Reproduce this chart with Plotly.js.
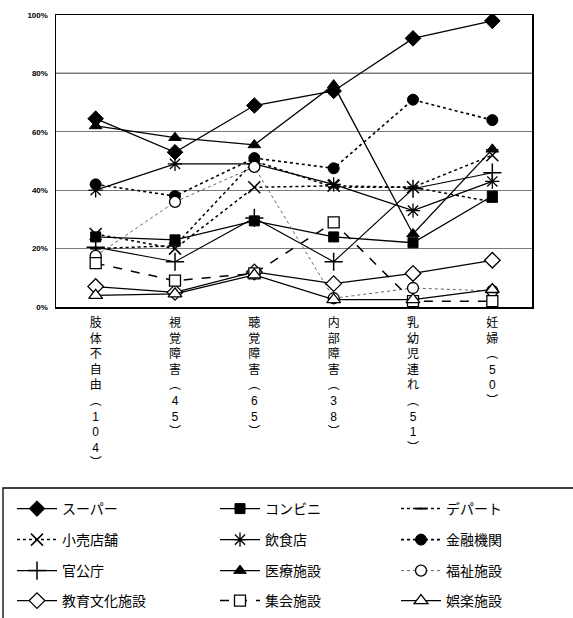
<!DOCTYPE html>
<html>
<head>
<meta charset="utf-8">
<script src="https://cdn.plot.ly/plotly-3.0.1.min.js"></script>
<style>html,body{margin:0;padding:0;background:#fff;}#chart{width:573px;height:618px;}</style>
</head>
<body>
<div id="chart"></div>
<script>
// ---- data ----
const categories = ['肢体不自由', '視覚障害', '聴覚障害', '内部障害', '乳幼児連れ', '妊婦'];
const counts = [104, 45, 65, 38, 51, 50];
const yTickVals = [0, 20, 40, 60, 80, 100];
const yTickText = ['0%', '20%', '40%', '60%', '80%', '100%'];

const seriesNames = ['スーパー', 'コンビニ', 'デパート', '小売店舗', '飲食店', '金融機関',
                     '官公庁', '医療施設', '福祉施設', '教育文化施設', '集会施設', '娯楽施設'];
const superMarket = [64.5, 53, 69, 74, 92, 98];
const convenience = [24, 23, 29.5, 24, 22, 38];
const depart = [20, 21, 50, 41, 41, 36];
const retail = [25, 20, 41, 41.5, 41, 52];
const restaurant = [40, 49, 49, 42, 33, 43];
const finance = [42, 38, 51, 47.5, 71, 64];
const government = [20.5, 15.5, 30.5, 15.5, 40.5, 46];
const medical = [62, 58, 55.5, 76, 25, 54];
const welfare = [17.5, 36, 48, 3, 6.5, 5.5];
const education = [7, 5, 12, 8, 11.5, 16];
const assembly = [15, 9, 11.5, 29, 2, 2];
const entertainment = [4, 4.5, 11, 2.5, 2.5, 6];
const seriesValues = [superMarket, convenience, depart, retail, restaurant, finance,
                      government, medical, welfare, education, assembly, entertainment];

// ---- styles ----
const styles = [
  {dash: 'solid', lc: '#000', lw: 1.3, sym: 'diamond', size: 12, fill: '#000', ol: '#000', olw: 1},
  {dash: 'solid', lc: '#000', lw: 1.3, sym: 'square', size: 10, fill: '#000', ol: '#000', olw: 1},
  {dash: 'dot', lc: '#000', lw: 1.5, sym: 'line-ew-open', size: 8, fill: '#000', ol: '#000', olw: 2},
  {dash: 'dot', lc: '#000', lw: 1.5, sym: 'x-thin-open', size: 12, fill: '#000', ol: '#000', olw: 1.5},
  {dash: 'solid', lc: '#000', lw: 1.3, sym: 'asterisk-open', size: 12, fill: '#000', ol: '#000', olw: 1.3},
  {dash: 'dot', lc: '#000', lw: 1.6, sym: 'circle', size: 11, fill: '#000', ol: '#000', olw: 1},
  {dash: 'solid', lc: '#000', lw: 1.1, sym: 'cross-thin-open', size: 13, fill: '#000', ol: '#000', olw: 1.5},
  {dash: 'solid', lc: '#000', lw: 1.3, sym: 'triangle-up', size: 11, fill: '#000', ol: '#000', olw: 1},
  {dash: 'dot', lc: '#666', lw: 1, sym: 'circle', size: 11, fill: '#fff', ol: '#000', olw: 1.3},
  {dash: 'solid', lc: '#000', lw: 1.3, sym: 'diamond', size: 12, fill: '#fff', ol: '#000', olw: 1.3},
  {dash: 'dash', lc: '#000', lw: 1.5, sym: 'square', size: 11, fill: '#fff', ol: '#000', olw: 1.3},
  {dash: 'solid', lc: '#000', lw: 1.3, sym: 'triangle-up', size: 12, fill: '#fff', ol: '#000', olw: 1.3}
];

// vertical tick labels
function verticalLabel(name, n) {
  const chars = Array.from(name).concat(['︵'], Array.from(String(n)), ['︶']);
  return chars.join('<br>');
}
const tickText = categories.map((c, i) => verticalLabel(c, counts[i]));

// geometry helpers (pixel -> paper)
const L = 56, R = 41, T = 15, B = 311, W = 573, Hh = 618;
const PW = W - L - R, PH = Hh - T - B;
const px = x => (x - L) / PW;
const py = y => (Hh - B - y) / PH;

const legendCols = [12, 215, 396];
const legendRows = [509, 540, 571, 601];

const traces = [];
const layoutLegends = {};
seriesNames.forEach((name, i) => {
  const s = styles[i];
  const legKey = i === 0 ? 'legend' : 'legend' + (i + 1);
  traces.push({
    type: 'scatter', mode: 'lines+markers', name: name,
    x: categories, y: seriesValues[i],
    line: {color: s.lc, width: s.lw, dash: s.dash},
    marker: {symbol: s.sym, size: s.size, color: s.fill, line: {color: s.ol, width: s.olw}},
    legend: legKey, hoverinfo: 'skip'
  });
  layoutLegends[legKey] = {
    x: px(legendCols[i % 3]), xanchor: 'left',
    y: py(legendRows[Math.floor(i / 3)]), yanchor: 'middle',
    bgcolor: 'rgba(0,0,0,0)', borderwidth: 0, itemwidth: 40,
    font: {family: 'Noto Sans CJK JP', size: 14, color: '#000'}
  };
});

const layout = Object.assign({
  width: W, height: Hh,
  margin: {l: L, r: R, t: T, b: B, pad: 0, autoexpand: false},
  paper_bgcolor: '#fff', plot_bgcolor: '#fff',
  showlegend: true,
  xaxis: {
    type: 'category', range: [-0.5, 5.5], tickmode: 'array',
    tickvals: categories, ticktext: tickText, ticks: '',
    showgrid: false, zeroline: false, automargin: false,
    showline: true, mirror: true, linecolor: '#000', linewidth: 1.5,
    tickfont: {family: 'Liberation Sans, Noto Sans CJK JP', size: 12, color: '#000'},
    tickangle: 0, ticklabelstandoff: 4
  },
  yaxis: {
    range: [0, 100], tickmode: 'array', tickvals: yTickVals, ticktext: yTickText,
    ticks: '', showgrid: true, gridcolor: '#7a7a7a', gridwidth: 1.3, automargin: false,
    zeroline: false, showline: true, mirror: true, linecolor: '#000', linewidth: 1.5,
    tickfont: {family: 'Liberation Sans Narrow, Liberation Sans', size: 8, color: '#000', weight: 'bold'},
    ticklabelstandoff: 5
  },
  shapes: [
    {type: 'line', xref: 'paper', x0: 0, x1: 1, yref: 'y', y0: 80, y1: 80,
     line: {color: '#000', width: 1.3}, layer: 'below'},
    {type: 'rect', xref: 'paper', yref: 'paper',
     x0: px(3), x1: px(580), y0: py(488), y1: py(630),
     line: {color: '#000', width: 1.3}, fillcolor: 'rgba(0,0,0,0)'}
  ]
}, layoutLegends);

Plotly.newPlot('chart', traces, layout, {displayModeBar: false, staticPlot: true});
</script>
</body>
</html>
